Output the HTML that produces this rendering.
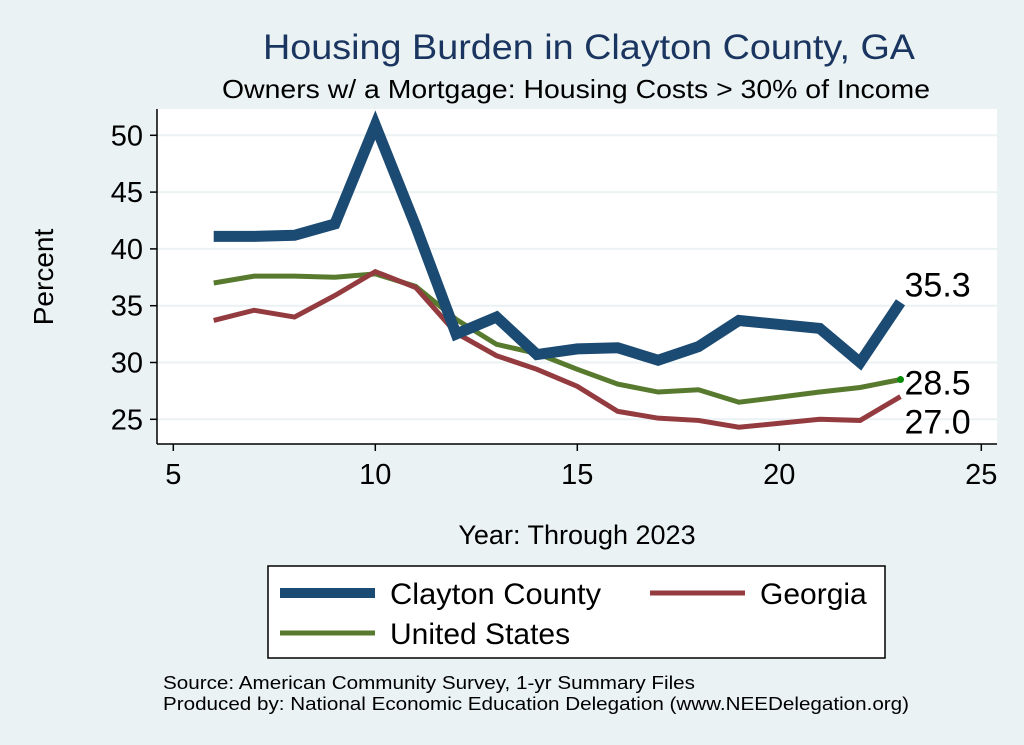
<!DOCTYPE html>
<html><head><meta charset="utf-8"><style>
body{margin:0;background:#eaf2f3;}
svg{display:block;font-family:"Liberation Sans",sans-serif;}
</style></head><body>
<svg id="chart" width="1024" height="745">
<rect x="0" y="0" width="1024" height="745" fill="#eaf2f3"/>
<text x="263" y="59" font-size="35" fill="#1a3560" textLength="652" lengthAdjust="spacingAndGlyphs">Housing Burden in Clayton County, GA</text>
<text x="222" y="98" font-size="26" fill="#000" textLength="708" lengthAdjust="spacingAndGlyphs">Owners w/ a Mortgage: Housing Costs &gt; 30% of Income</text>
<rect x="157" y="109" width="840" height="335" fill="#fff"/>
<g id="grid"></g>
<g id="axes"></g>
<g id="series"></g>
<text x="53" y="277" font-size="28" text-anchor="middle" transform="rotate(-90 53 277)">Percent</text>
<text x="577" y="544" font-size="27" text-anchor="middle">Year: Through 2023</text>
<g>
<rect x="268" y="566" width="617" height="92" fill="#fff" stroke="#000" stroke-width="1.5"/>
<line x1="280" y1="593" x2="375" y2="593" stroke="#1b4a72" stroke-width="10"/>
<text x="390" y="604" font-size="30" textLength="211" lengthAdjust="spacingAndGlyphs">Clayton County</text>
<line x1="650" y1="593" x2="745" y2="593" stroke="#943b40" stroke-width="5"/>
<text x="760" y="604" font-size="30">Georgia</text>
<line x1="280" y1="633" x2="375" y2="633" stroke="#587a2f" stroke-width="5"/>
<text x="390" y="644" font-size="30">United States</text>
</g>
<text x="163" y="689" font-size="18" textLength="532" lengthAdjust="spacingAndGlyphs">Source: American Community Survey, 1-yr Summary Files</text>
<text x="163" y="710" font-size="18" textLength="746" lengthAdjust="spacingAndGlyphs">Produced by: National Economic Education Delegation (www.NEEDelegation.org)</text>
</svg>
<script>
const years=[6,7,8,9,10,11,12,13,14,15,16,17,18,19,21,22,23];
const clayton=[41.1,41.1,41.2,42.2,50.9,42.0,32.5,34.0,30.7,31.2,31.3,30.2,31.4,33.7,33.0,30.0,35.3];
const georgia=[33.7,34.6,34.0,35.9,38.0,36.6,32.6,30.6,29.4,27.9,25.7,25.1,24.9,24.3,25.0,24.9,27.0];
const us=[37.0,37.6,37.6,37.5,37.8,36.7,33.8,31.6,30.8,29.4,28.1,27.4,27.6,26.5,27.4,27.8,28.5];
const yTicks=[25,30,35,40,45,50];
const xTicks=[5,10,15,20,25];
const NS='http://www.w3.org/2000/svg';
function xs(v){return 173.3+(v-5)*40.4;}
function ys(v){return 419.3-(v-25)*11.36;}
function mk(tag,attrs,parent){const e=document.createElementNS(NS,tag);for(const k in attrs)e.setAttribute(k,attrs[k]);document.getElementById(parent).appendChild(e);return e;}
yTicks.forEach(t=>{
  const g=mk('line',{x1:157,x2:997,y1:ys(t),y2:ys(t),stroke:'#eaf2f3','stroke-width':2},'grid');
  
  
  const tk=mk('line',{x1:150,x2:157,y1:ys(t),y2:ys(t),stroke:'#000','stroke-width':1.5},'axes');
  
  
  const tx=mk('text',{x:143,y:ys(t)+10,'font-size':29,'text-anchor':'end'},'axes');
  tx.textContent=t;
  
  
});
xTicks.forEach(t=>{
  const tk=mk('line',{x1:xs(t),x2:xs(t),y1:444,y2:451,stroke:'#000','stroke-width':1.5},'axes');
  
  
  const tx=mk('text',{x:xs(t),y:484,'font-size':29,'text-anchor':'middle'},'axes');
  tx.textContent=t;
  
  
});
const ya=mk('line',{x1:157,x2:157,y1:109,y2:444,stroke:'#000','stroke-width':1.5},'axes');


const xa=mk('line',{x1:157,x2:997,y1:444,y2:444,stroke:'#000','stroke-width':1.5},'axes');


function line(vals,color,w,name){
  const p=mk('polyline',{points:years.map((y,i)=>xs(y)+','+ys(vals[i])).join(' '),fill:'none',stroke:color,'stroke-width':w,'stroke-linejoin':'miter'},'series');
  
  
}
line(us,'#587a2f',5,'line-united-states');
line(georgia,'#943b40',5,'line-georgia');
line(clayton,'#1b4a72',11,'line-clayton-county');
const last=years.length-1;
const dot=mk('circle',{cx:xs(years[last]),cy:ys(us[last]),r:3.5,fill:'#0a8a0a'},'series');


function lab(v,dy,name){
  const t=mk('text',{x:xs(years[last])+4,y:ys(v)+dy,'font-size':34},'series');
  t.textContent=v.toFixed(1);
  
  
}
lab(clayton[last],-6,'label-clayton-end');
lab(us[last],15,'label-us-end');
lab(georgia[last],37,'label-georgia-end');
</script>
</body></html>
